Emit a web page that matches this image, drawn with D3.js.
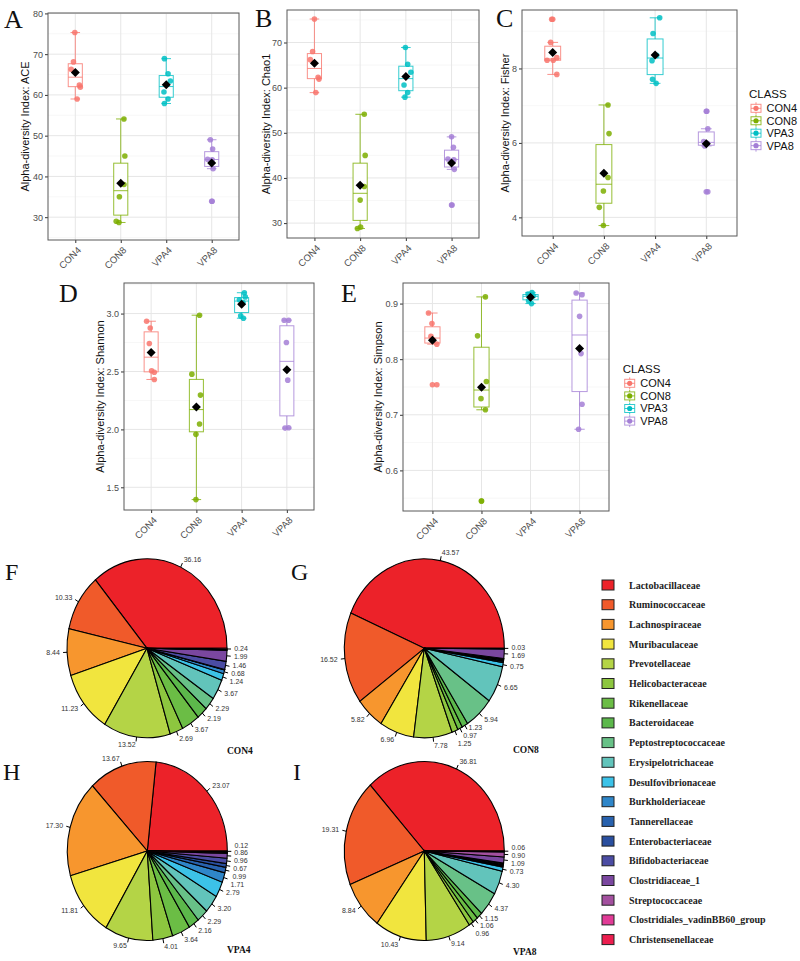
<!DOCTYPE html>
<html><head><meta charset="utf-8">
<script src="https://cdn.jsdelivr.net/npm/d3@7"></script>
<style>body{margin:0;background:#fff}</style>
</head><body>
<svg id="c" width="800" height="961"></svg>
<script>
// ---------- DATA ----------
const groups = ["CON4","CON8","VPA4","VPA8"];
const classLabels = ["CON4","CON8","VPA3","VPA8"];
const groupColors = ["#F8766D","#7CAE00","#00BFC4","#A47FD6"];

const aceValues = [[75.3,68.1,66.3,62.4,61.9,59.0],[54.1,45.0,38.0,35.0,29.0,28.7],[68.9,65.2,63.4,60.7,59.0,57.9],[49.0,46.7,44.2,44.1,41.9,33.9]];
const aceJitter = [[-0.01,-0.04,-0.09,0.09,0.11,0.04],[0.07,0.09,0.07,-0.03,-0.10,-0.04],[-0.04,0.04,0.09,-0.05,0.04,-0.04],[-0.03,0.02,-0.09,0.01,0.03,0.01]];
const chaoValues = [[75.2,68.0,66.2,62.3,61.9,58.9],[54.1,45.0,38.1,35.1,29.1,28.8],[68.9,65.2,63.4,60.6,58.9,57.9],[49.1,46.8,44.2,44.0,41.9,34.0]];
const chaoJitter = [[0,-0.04,-0.09,0.08,0.10,0.03],[0.09,0.11,0.09,0,0.01,-0.06],[-0.01,0.04,0.11,-0.04,0.04,-0.02],[0,0.04,-0.08,0.05,0.06,0.01]];
const fisherValues = [[9.32,8.70,8.29,8.22,8.22,7.84],[7.02,6.25,5.07,4.71,4.27,3.78],[9.36,8.94,8.35,8.21,7.71,7.60],[6.85,6.38,6.04,5.99,5.92,4.69]];
const fisherJitter = [[-0.02,-0.04,0.08,-0.11,0.01,0.08],[0.08,0.10,0.08,-0.01,-0.09,-0.01],[0.09,-0.04,0.03,-0.06,-0.05,0.02],[0.01,0.03,-0.05,0.02,-0.03,0.03]];
const shannonValues = [[2.934,2.876,2.741,2.506,2.494,2.431],[2.986,2.477,2.296,2.046,1.957,1.394],[3.18,3.144,3.12,3.096,2.98,2.96],[2.943,2.943,2.75,2.425,2.014,2.011]];
const shannonJitter = [[-0.10,-0.02,-0.04,0.01,0.07,0.07],[0.07,-0.10,0.09,0.07,-0.01,-0.01],[0.06,0.08,-0.05,0.03,-0.02,0.04],[-0.06,0.04,-0.01,0.02,0.04,-0.04]];
const simpsonValues = [[0.883,0.864,0.841,0.835,0.827,0.754],[0.912,0.842,0.760,0.729,0.709,0.545],[0.920,0.917,0.914,0.912,0.905,0.900],[0.919,0.916,0.877,0.810,0.719,0.674]];
const simpsonJitter = [[-0.08,-0.01,-0.03,0.01,0.09,0.09],[0.08,-0.08,0.10,-0.01,0.08,0],[0.03,-0.05,0.06,0,-0.04,0.02],[-0.07,0.05,0,0.03,0.05,-0.02]];

const families = ["Lactobacillaceae","Ruminococcaceae","Lachnospiraceae","Muribaculaceae","Prevotellaceae","Helicobacteraceae","Rikenellaceae","Bacteroidaceae","Peptostreptococcaceae","Erysipelotrichaceae","Desulfovibrionaceae","Burkholderiaceae","Tannerellaceae","Enterobacteriaceae","Bifidobacteriaceae","Clostridiaceae_1","Streptococcaceae","Clostridiales_vadinBB60_group","Christensenellaceae"];
const familyColors = ["#ec2229","#f05a2a","#f7962e","#f1e53e","#b4d446","#8dc63f","#6bbd45","#5cb84b","#68c187","#62c4bb","#3cc2e8","#2f86c9","#2862ae","#2a4f9f","#4b4ca3","#7a479f","#a3509f","#e13b96","#ec1e4f"];
const con4Pct = [36.16,10.33,8.44,11.23,13.52,2.69,3.67,2.19,2.29,3.67,1.24,0.68,0.05,0.05,1.46,1.99,0.05,0.05,0.24];
const con4Hidden = [12,13,16,17];
const con8Pct = [43.57,16.52,5.82,6.96,7.78,1.25,0.97,1.23,5.94,6.65,0.75,0.25,0.2,0.2,0.1,1.69,0.05,0.04,0.03];
const con8Hidden = [11,12,13,14,16,17];
const vpa4Pct = [23.07,13.67,17.30,11.81,9.65,4.01,3.64,2.16,2.29,3.20,2.79,1.71,0.99,0.67,0.96,0.86,0.15,0.15,0.12];
const vpa4Hidden = [16,17];
const vpa8Pct = [36.81,19.31,8.84,10.43,9.14,0.96,1.06,1.15,4.37,4.30,0.73,0.2,0.2,0.2,0.15,1.09,0.90,0.1,0.06];
const vpa8Hidden = [11,12,13,14,17];

// ---------- DRAW ----------
const svg = d3.select("#c");
svg.append("rect").attr("width",800).attr("height",961).attr("fill","#fff");
const SANS = "'Liberation Sans', Arial, sans-serif";
const SERIF = "'Liberation Serif', 'Times New Roman', serif";

function boxPanel(p, values, jitter){
  const x = d3.scalePoint().domain(groups).range([p.x0,p.x1]).padding(0.6);
  const y = d3.scaleLinear().domain(p.domain).range([p.y1,p.y0]);
  const step = x.step();
  const g = svg.append("g");
  g.selectAll(".mn").data(p.minor).join("line")
    .attr("x1",p.x0).attr("x2",p.x1).attr("y1",d=>y(d)).attr("y2",d=>y(d))
    .attr("stroke","#f2f2f2").attr("stroke-width",0.6);
  g.selectAll(".mj").data(p.ticks).join("line")
    .attr("x1",p.x0).attr("x2",p.x1).attr("y1",d=>y(d)).attr("y2",d=>y(d))
    .attr("stroke","#e6e6e6").attr("stroke-width",1);
  g.selectAll(".vg").data(groups).join("line")
    .attr("x1",d=>x(d)).attr("x2",d=>x(d)).attr("y1",p.y0).attr("y2",p.y1)
    .attr("stroke","#e6e6e6").attr("stroke-width",1);

  groups.forEach((grp,i)=>{
    const vals = values[i].slice().sort(d3.ascending);
    const q1=d3.quantile(vals,0.25), md=d3.quantile(vals,0.5), q3=d3.quantile(vals,0.75);
    const iqr=q3-q1;
    const inl = vals.filter(v=>v>=q1-1.5*iqr && v<=q3+1.5*iqr);
    const out = vals.filter(v=>v<q1-1.5*iqr || v>q3+1.5*iqr);
    const lo=d3.min(inl), hi=d3.max(inl);
    const cx=x(grp), col=groupColors[i];
    const bw=step*0.31, cw=step*0.21;
    const lg = g.append("g").attr("stroke",col).attr("stroke-opacity",0.8).attr("stroke-width",1).attr("fill","none");
    lg.append("line").attr("x1",cx).attr("x2",cx).attr("y1",y(hi)).attr("y2",y(lo));
    lg.append("line").attr("x1",cx-cw/2).attr("x2",cx+cw/2).attr("y1",y(hi)).attr("y2",y(hi));
    lg.append("line").attr("x1",cx-cw/2).attr("x2",cx+cw/2).attr("y1",y(lo)).attr("y2",y(lo));
    lg.append("rect").attr("x",cx-bw/2).attr("width",bw).attr("y",y(q3)).attr("height",y(q1)-y(q3)).attr("fill","#fff");
    lg.append("line").attr("x1",cx-bw/2).attr("x2",cx+bw/2).attr("y1",y(md)).attr("y2",y(md));
    out.forEach(v=>{
      g.append("circle").attr("cx",cx).attr("cy",y(v)).attr("r",2.8).attr("fill",col).attr("fill-opacity",0.85);
    });
    values[i].forEach((v,j)=>{
      g.append("circle").attr("cx",cx+jitter[i][j]*step).attr("cy",y(v)).attr("r",2.8).attr("fill",col).attr("fill-opacity",0.85);
    });
    const mv = d3.mean(values[i]), my=y(mv), s=4.5;
    g.append("path").attr("d",`M${cx},${my-s}L${cx+s},${my}L${cx},${my+s}L${cx-s},${my}Z`).attr("fill","#000");
  });

  const ya = g.append("g").attr("transform",`translate(${p.x0},0)`)
    .call(d3.axisLeft(y).tickValues(p.ticks).tickSize(3).tickFormat(p.fmt));
  ya.select(".domain").remove();
  ya.selectAll("line").attr("stroke","#333");
  ya.selectAll("text").attr("font-family",SANS).attr("font-size",9).attr("fill","#4d4d4d").attr("x",-5);
  const xa = g.append("g").attr("transform",`translate(0,${p.y1})`)
    .call(d3.axisBottom(x).tickSize(3));
  xa.select(".domain").remove();
  xa.selectAll("line").attr("stroke","#333");
  xa.selectAll("text").attr("font-family",SANS).attr("font-size",9.5).attr("fill","#4d4d4d")
    .attr("text-anchor","end").attr("dy",null).attr("y",null)
    .attr("transform","translate(1,6) rotate(-45)").attr("dy","0.72em");
  g.append("rect").attr("x",p.x0).attr("y",p.y0).attr("width",p.x1-p.x0).attr("height",p.y1-p.y0)
    .attr("fill","none").attr("stroke","#595959").attr("stroke-width",1);
  g.append("text").attr("transform",`translate(${p.tx},${(p.y0+p.y1)/2}) rotate(-90)`)
    .attr("text-anchor","middle").attr("dy","0.35em").attr("font-family",SANS).attr("font-size",11)
    .attr("fill","#111").text(p.title);
  svg.append("text").attr("x",p.lx).attr("y",p.ly).attr("font-family",SERIF).attr("font-size",26).attr("fill","#111").text(p.letter);
}

function classLegend(lx, ly, sp){
  svg.append("text").attr("x",lx).attr("y",ly).attr("dy","0.35em").attr("font-family",SANS).attr("font-size",11.5).attr("fill","#111").text("CLASS");
  classLabels.forEach((lab,i)=>{
    const cy = ly+14+i*sp, col=groupColors[i], kx=lx+1;
    const k = svg.append("g").attr("stroke",col).attr("stroke-opacity",0.8).attr("fill","none");
    k.append("line").attr("x1",kx+6).attr("x2",kx+6).attr("y1",cy-6).attr("y2",cy+6);
    k.append("rect").attr("x",kx+1).attr("y",cy-4).attr("width",10).attr("height",8).attr("fill","#fff");
    k.append("line").attr("x1",kx+1).attr("x2",kx+11).attr("y1",cy).attr("y2",cy);
    svg.append("circle").attr("cx",kx+6).attr("cy",cy).attr("r",2.6).attr("fill",col);
    svg.append("text").attr("x",lx+17.5).attr("y",cy).attr("dy","0.35em").attr("font-family",SANS).attr("font-size",11).attr("fill","#111").text(lab);
  });
}

const f1 = d3.format("d"), f2 = d3.format(".1f");
boxPanel({x0:48,x1:239,y0:13,y1:240,domain:[24.4,80.1],ticks:[30,40,50,60,70,80],minor:[25,35,45,55,65,75],fmt:f1,title:"Alpha-diversity Index: ACE",tx:25,letter:"A",lx:4,ly:28}, aceValues, aceJitter);
boxPanel({x0:287,x1:479,y0:10,y1:238,domain:[26.7,77.2],ticks:[30,40,50,60,70],minor:[35,45,55,65,75],fmt:f1,title:"Alpha-diversity Index: Chao1",tx:266,letter:"B",lx:255,ly:27}, chaoValues, chaoJitter);
boxPanel({x0:522,x1:737,y0:10,y1:236,domain:[3.5,9.57],ticks:[4,6,8],minor:[5,7,9],fmt:f1,title:"Alpha-diversity Index: Fisher",tx:505,letter:"C",lx:496,ly:27}, fisherValues, fisherJitter);
boxPanel({x0:124,x1:314,y0:283,y1:510,domain:[1.304,3.264],ticks:[1.5,2.0,2.5,3.0],minor:[1.75,2.25,2.75,3.25],fmt:f2,title:"Alpha-diversity Index: Shannon",tx:100,letter:"D",lx:59,ly:302}, shannonValues, shannonJitter);
boxPanel({x0:403,x1:609,y0:283,y1:511,domain:[0.527,0.937],ticks:[0.6,0.7,0.8,0.9],minor:[0.55,0.65,0.75,0.85],fmt:f2,title:"Alpha-diversity Index: Simpson",tx:378,letter:"E",lx:341,ly:302}, simpsonValues, simpsonJitter);
classLegend(749,94.3,12.45);
classLegend(622.7,369.3,12.6);

function pieChart(cx, cy, vals, hidden, title, tx, ty, letter, lx, ly){
  const rx=80, ry=89.5, GAP=7.8;
  const pie = d3.pie().sort(null).startAngle(Math.PI/2).endAngle(Math.PI/2-2*Math.PI);
  const arcs = pie(vals);
  const arc = d3.arc().innerRadius(0).outerRadius(rx);
  const g = svg.append("g").attr("transform",`translate(${cx},${cy}) scale(1,${ry/rx})`);
  g.selectAll("path").data(arcs).join("path").attr("d",arc)
    .attr("fill",(d,i)=>familyColors[i]).attr("stroke","#000").attr("stroke-width",1.1)
    .attr("vector-effect","non-scaling-stroke");
  const labs = [];
  arcs.forEach((a,i)=>{
    if(hidden.includes(i)) return;
    const m=(a.startAngle+a.endAngle)/2, sx=Math.sin(m), sy=-Math.cos(m);
    svg.append("line").attr("x1",cx+rx*sx).attr("y1",cy+ry*sy).attr("x2",cx+1.05*rx*sx).attr("y2",cy+1.05*ry*sy)
      .attr("stroke","#000").attr("stroke-width",1);
    const t=d3.format(".2f")(vals[i]);
    const w=t.length*3.7, x=cx+1.09*rx*sx;
    labs.push({x, y:cy+1.09*ry*sy, l:sx>=0?x:x-w, r:sx>=0?x+w:x, right:sx>=0, t});
  });
  // relax overlapping labels vertically
  for(let it=0; it<120; it++){
    for(let a=0;a<labs.length;a++) for(let b=a+1;b<labs.length;b++){
      const A=labs[a], B=labs[b];
      if(A.r<B.l || B.r<A.l) continue;
      const dy=B.y-A.y;
      if(Math.abs(dy)<GAP){
        const d=(GAP-Math.abs(dy))/2, s=dy>=0?1:-1;
        B.y+=s*d; A.y-=s*d;
      }
    }
  }
  labs.forEach(l=>{
    svg.append("text").attr("x",l.x).attr("y",l.y).attr("dy","0.35em")
      .attr("text-anchor",l.right?"start":"end").attr("font-family",SANS).attr("font-size",7).attr("fill","#333")
      .text(l.t);
  });
  svg.append("text").attr("x",tx).attr("y",ty).attr("font-family",SERIF).attr("font-weight","bold").attr("font-size",9.5).attr("fill","#111").text(title);
  svg.append("text").attr("x",lx).attr("y",ly).attr("font-family",SERIF).attr("font-size",24).attr("fill","#111").text(letter);
}
pieChart(147,648.3,con4Pct,con4Hidden,"CON4",227,754,"F",5,580);
pieChart(424.3,648.3,con8Pct,con8Hidden,"CON8",513,753,"G",291,580);
pieChart(147.3,851,vpa4Pct,vpa4Hidden,"VPA4",227,953,"H",3,780);
pieChart(424.3,851,vpa8Pct,vpa8Hidden,"VPA8",513,955,"I",293,780);

families.forEach((f,i)=>{
  const cy = 585 + i*19.7;
  svg.append("rect").attr("x",602).attr("y",cy-5).attr("width",12).attr("height",10)
    .attr("fill",familyColors[i]).attr("stroke","#222").attr("stroke-width",1);
  svg.append("text").attr("x",629).attr("y",cy).attr("dy","0.35em").attr("font-family",SERIF)
    .attr("font-weight","bold").attr("font-size",10).attr("fill","#222").text(f);
});
</script>
</body></html>
